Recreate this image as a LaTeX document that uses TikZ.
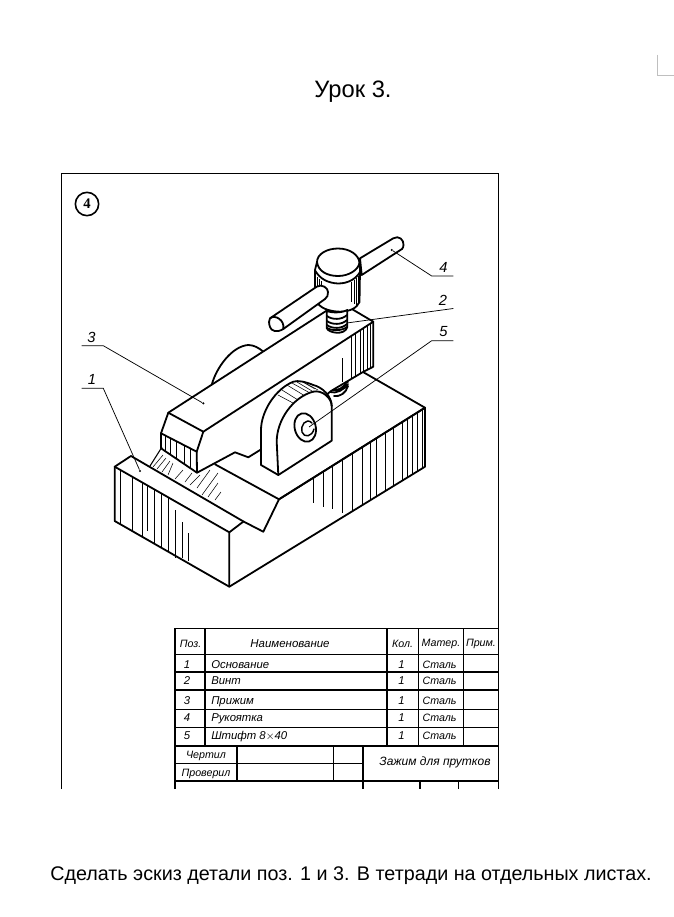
\documentclass[tikz,border=0pt]{standalone}
\usepackage{fontspec}
\setmainfont{Liberation Sans}
\newfontfamily\gost{Liberation Sans}
\tikzset{
 thick line/.style={line width=1.35pt,line join=round,line cap=round},
 frame line/.style={line width=1.2pt},
 thin line/.style={line width=0.55pt},
 hatch/.style={line width=0.4pt},
 lbl/.style={font=\gost\itshape\fontsize{11}{11}\selectfont,inner sep=0pt},
 cell/.style={font=\gost\itshape\fontsize{8}{8}\selectfont,inner sep=0pt,anchor=base},
 cellb/.style={font=\gost\itshape\fontsize{8.5}{8.5}\selectfont,inner sep=0pt,anchor=base},
 face/.style={thick line,fill=white},
 dotend/.style={circle,fill=black,inner sep=0pt,minimum size=1.8pt},
}
\begin{document}
\begin{tikzpicture}[x=0.75pt,y=-0.75pt]
\useasboundingbox (0,0) rectangle (674,917);
\fill[white] (0,0) rectangle (674,917);
% corner mark
\draw[gray!50,line width=0.6pt] (657,55) -- (657,75) -- (674,75);
% texts
\node[font=\fontsize{17.8}{17.8}\selectfont,inner sep=0pt] (title) at (353,92) {Урок 3.};
\node[font=\fontsize{14.8}{14.8}\selectfont,inner sep=0pt] (task) at (351,876) {Сделать эскиз детали поз. 1 и 3. В тетради на отдельных листах.};
% frame
\draw[frame line] (61.5,789) -- (61.5,173.5) -- (498.5,173.5) -- (498.5,789);
\node[draw,circle,line width=1.2pt,minimum size=17.5pt,inner sep=0pt] (num) at (87,204) {\fontspec{Liberation Serif}\bfseries\fontsize{11}{11}\selectfont 4};
% base
\draw[face] (114.7,466.7) -- (131,456) -- (243.5,521.5) -- (263.3,531.7) -- (279,499.3) -- (425,407.7) -- (425,466.7) -- (229.3,586.7) -- (114.7,521) -- cycle;
\draw[thick line] (114.7,466.7) -- (229.3,532.3) -- (229.3,586.7);
\draw[thick line] (229.3,532.3) -- (243.5,521.5);
\draw[thick line] (279,499.3) -- (215,464.3);
\draw[thick line] (279,499.3) -- (425,407.7) -- (363,372);
% base left hatch
\foreach \x/\a/\b in {120/470/524,132/477/531,142/483/537,147/486/531,154/490/543,161/494/547,168/498/551,175/510/558,182/522/558,188/533/561}
  \draw[hatch] (\x,\a) -- (\x,\b);
% base right hatch
\foreach \x/\b in {313/503,323/507,332/509,342/513}
  \draw[hatch] (\x,{499.3-(\x-279)*0.627}) -- (\x,\b);
\foreach \x in {352,362,370,376,385,393,402,407,412,417,422}
  \draw[hatch] (\x,{499.3-(\x-279)*0.627}) -- (\x,{586.7-(\x-229.3)*0.613});
% back bracket
\draw[thick line] (211.7,385) .. controls (216,368) and (232,346) .. (248.3,345) .. controls (254,345) and (259,348) .. (263.3,351.7);
% bolt under clamp
\draw[thick line] (343,380) -- (348,382) (330,392) .. controls (336,394) and (344,390) .. (348,384) (332,390) .. controls (338,391) and (344,388) .. (347,381) (334,396) .. controls (340,397) and (346,393) .. (348,386);
% clamp
\draw[face] (168.3,412.7) -- (340,302) -- (373.3,321.7) -- (373.3,366.7) -- (363,372) -- (331,391) -- (261.7,449) -- (248.3,457.3) -- (235,452.3) -- (197,472.7) -- (161,448.3) -- (161,433.3) -- cycle;
\draw[thick line] (168.3,412.7) -- (203.3,431.7) -- (373.3,321.7);
\draw[thick line] (161,433.3) -- (196.7,451.7) -- (203.3,431.7);
\draw[thick line] (196.7,451.7) -- (197,472.7);
% clamp hatch
\foreach \x/\a/\b in {165/436/451,170/438/455,176/441/459,184/445/464,190/448/468}
  \draw[hatch] (\x,\a) -- (\x,\b);
\foreach \x in {351.7,355,360,363,367,370}
  \draw[hatch] (\x,{321.7+(373.3-\x)*0.647}) -- (\x,{366.7+(373.3-\x)*0.5});
\draw[hatch] (342.7,358) -- (342.7,382);
% groove hatch
\draw[line width=0.8pt] (162,447) -- (150,466);
\foreach \x/\y/\u/\v in {163/455/153/467,166/458/157/469,170/461/162/472,173/463/168/475,183/470/175/479,192/473/185/482,200/475/190/485,210/470/197/488,218/473/202/495,218/483/208/497,221/492/215/500}
  \draw[hatch] (\x,\y) -- (\u,\v);
% front bracket
\draw[face] (261,465) -- (278.3,475) -- (331.7,440.7) -- (331.7,406) .. controls (331.7,396) and (322,387) .. (313.3,385) .. controls (306,382) and (298,380) .. (293.3,381.7) .. controls (275,389) and (261,412) .. (261,430) -- cycle;
\draw[thick line] (278.3,475) -- (276.7,441.7) .. controls (276.7,420) and (293,397) .. (313,391.7);
\draw[thick line] (313,391.7) .. controls (322,389.5) and (331.7,398) .. (331.7,406);
\foreach \a/\b/\c/\d in {278/395/293/403,282/390/298/400,287/385/305/396,292/383/310/393,297/382/312/391,301/381/315/389,305/383/318/390}
  \draw[hatch] (\a,\b) -- (\c,\d);
% hole
\draw[thick line,rotate around={15:(305.2,427.5)}] (305.2,427.5) ellipse [x radius=10.5,y radius=14.5];
\draw[line width=1.1pt,line cap=round] (312,423) .. controls (306,417) and (300,426) .. (302,432) .. controls (304,438) and (312,437) .. (314,429);
% handle right
\draw[face] (360,258.3) -- (393.3,238.3) .. controls (399,235) and (404,240) .. (403.5,245) .. controls (403,247) and (403.3,248) .. (402,249) -- (361.7,275) -- cycle;
% knob
\draw[face] (317,262) .. controls (317,254) and (327,248.5) .. (338,248.5) .. controls (350,248.5) and (359,255) .. (359.5,263) -- (360,270) -- (359.5,302) .. controls (357,308) and (350,311.5) .. (340,311.7) .. controls (331,311.5) and (323,309) .. (319,305) -- (315,288) -- (315,270) -- cycle;
\draw[thick line] (317,262) .. controls (318,271) and (327,276) .. (338,276) .. controls (349,276) and (358,270) .. (359.5,263);
\draw[thick line] (315.5,271) .. controls (320,279) and (328,283) .. (338,283.5) .. controls (348,283.5) and (356,279) .. (360,272);
\foreach \x/\a/\b in {317/277/290,319/279/296,321/281/296,351/282/302,354/280/304,356/278/305,358/276/303}
  \draw[hatch] (\x,\a) -- (\x,\b);
% neck
\draw[face] (326.7,311) -- (326.7,328) .. controls (328,333) and (345,336) .. (347.3,327) -- (347.3,310) .. controls (342,313) and (332,313) .. (326.7,311) -- cycle;
\draw[thick line] (327,316) .. controls (332,320) and (342,320) .. (347,315);
\draw[thick line] (327,321) .. controls (332,325) and (342,325) .. (347,320);
\draw[thick line] (327,325) .. controls (332,329) and (342,329) .. (347,324);
\draw[thick line] (327,328) .. controls (332,331) and (342,331) .. (347,327);
% handle left
\draw[face] (270,318.3) -- (316.7,286.7) .. controls (322,283.5) and (328,288) .. (328,292) .. controls (328.5,295) and (327,297.5) .. (325,299) -- (283.3,329) .. controls (277,333) and (271,331) .. (270,327) .. controls (268.5,323) and (269,320) .. (270,318.3) -- cycle;
\draw[thick line] (270.5,318) .. controls (275,314.5) and (285,320) .. (283.3,329);
% leaders
\coordinate (u4a) at (431.7,276); \coordinate (u4b) at (453.3,276); \node[dotend] (d4) at (391.7,250) {};
\coordinate (u2b) at (453.3,308.5); \coordinate (d2) at (346.7,323);
\coordinate (u5a) at (431.7,340.7); \coordinate (u5b) at (453.3,340.7); \coordinate (d5) at (309,427);
\coordinate (u3a) at (81.7,345.7); \coordinate (u3b) at (103.3,345.7); \node[dotend] (d3) at (203.3,403.3) {};
\coordinate (u1a) at (81.7,388.3); \coordinate (u1b) at (103.3,388.3); \node[dotend] (d1) at (140,471) {};
\draw[thin line] (u4b) -- (u4a) -- (d4);
\draw[thin line] (u2b) -- (d2);
\draw[thin line] (u5b) -- (u5a) -- (d5);
\draw[thin line] (u3a) -- (u3b) -- (d3);
\draw[thin line] (u1a) -- (u1b) -- (d1);
\node[lbl] (l4) at (443.5,267.5) {4};
\node[lbl] (l2) at (443,300.5) {2};
\node[lbl] (l5) at (443.5,331.5) {5};
\node[lbl] (l3) at (91.5,337) {3};
\node[lbl] (l1) at (92,379) {1};
% table
\draw[frame line] (175,789) -- (175,628.3) -- (498.5,628.3);
\foreach \y in {654.3,671.7,690,709.3,727.3,746,780.7}
  \draw[frame line] (175,\y) -- (498.5,\y);
\draw[thin line] (175,763.3) -- (362.7,763.3);
\foreach \x in {205,386.7,418.3,463.3}
  \draw[frame line] (\x,628.3) -- (\x,746);
\draw[frame line] (236.7,746) -- (236.7,780.7);
\draw[frame line] (333.3,746) -- (333.3,780.7);
\draw[frame line] (362.7,746) -- (362.7,789);
\draw[frame line] (420,780.7) -- (420,789);
\draw[frame line] (458.3,780.7) -- (458.3,789);
\node[cell] at (190.5,647) {Поз.};
\node[cell,font=\gost\itshape\fontsize{8.6}{8.6}\selectfont] at (290,647) {Наименование};
\node[cell] at (402.5,647) {Кол.};
\node[cell] at (441,646) {Матер.};
\node[cell] at (481,646) {Прим.};
\foreach \y/\n/\nm in {668/1/Основание,684.5/2/Винт,704/3/Прижим,721.5/4/Рукоятка,739.5/5/Штифт 8$\times$40}{
  \node[cellb] at (187,\y) {\n};
  \node[cellb,anchor=base west] at (211,\y) {\nm};
  \node[cellb] at (401.5,\y) {1};
  \node[cell] at (439.5,\y) {Сталь};
}
\node[cell] at (206,758.5) {Чертил};
\node[cell] at (206,776.5) {Проверил};
\node[cell,font=\gost\itshape\fontsize{9}{9}\selectfont] at (435,765) {Зажим для прутков};
\end{tikzpicture}
\end{document}
